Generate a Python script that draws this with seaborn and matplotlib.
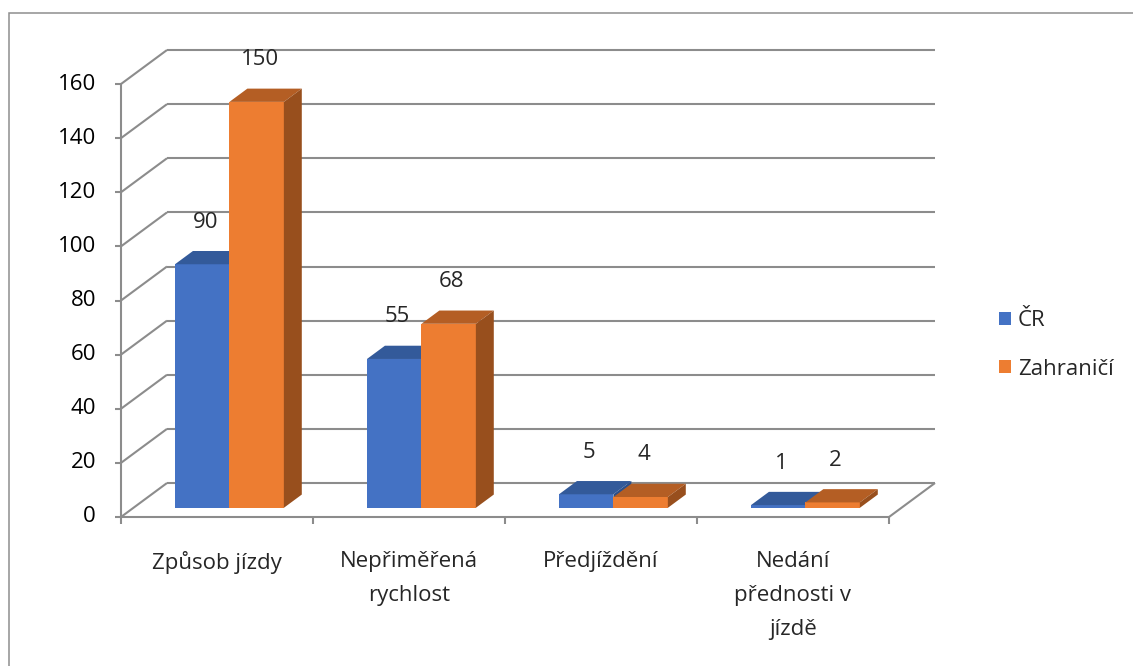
import matplotlib
matplotlib.use("Agg")
import matplotlib.pyplot as plt
import seaborn as sns
import pandas as pd
from matplotlib.patches import Polygon, Rectangle, Patch
from matplotlib.lines import Line2D

# ---- data -------------------------------------------------------------
categories = ["Způsob jízdy", "Nepřiměřená\nrychlost", "Předjíždění",
              "Nedání\npřednosti v\njízdě"]
series = ["ČR", "Zahraničí"]
cr_values = [90, 55, 5, 1]
abroad_values = [150, 68, 4, 2]
y_ticks = [0, 20, 40, 60, 80, 100, 120, 140, 160]

face_colors = {"ČR": "#4472C4", "Zahraničí": "#ED7D31"}
top_colors = {"ČR": "#335A9A", "Zahraničí": "#B45E24"}
side_colors = {"ČR": "#2B4F8A", "Zahraničí": "#984F1D"}
grid_color = "#8C8C8C"

sns.set_theme(style="white")
plt.rcParams["font.family"] = ["Open Sans", "DejaVu Sans"]
FS = 16

W, H, DPI = 1133, 666, 100
fig = plt.figure(figsize=(W / DPI, H / DPI), dpi=DPI)
fig.patch.set_facecolor("white")

# front plane of the plot box, in pixels from the top-left corner
left, right, y_zero, y_top = 121, 889, 517, 84
ax = fig.add_axes([left / W, (H - y_zero) / H, (right - left) / W,
                   (y_zero - y_top) / H])

df = pd.DataFrame({
    "kategorie": categories * 2,
    "hodnota": cr_values + abroad_values,
    "zdroj": [series[0]] * len(categories) + [series[1]] * len(categories),
})
sns.barplot(data=df, x="kategorie", y="hodnota", hue="zdroj",
            palette=face_colors, width=0.567, gap=0, saturation=1,
            linewidth=0, legend=False, ax=ax)

ax.set_xlim(-0.5, len(categories) - 0.5)
ax.set_ylim(0, 160)
for s in ax.spines.values():
    s.set_visible(False)
ax.set_xticks([])
ax.set_yticks([])
ax.set_xlabel("")
ax.set_ylabel("")
ax.patch.set_alpha(0)

# pixel -> data scale factors
sx = (right - left) / len(categories)
sy = (y_zero - y_top) / 160.0
DX, DY = 46 / sx, 34 / sy          # full depth of the 3-D box
f0, fd = 0.27, 0.39                # bar position and thickness along depth
x_lo, x_hi = -0.5, len(categories) - 0.5


def line(xs, ys, lw=1.5, z=0.5):
    ax.add_line(Line2D(xs, ys, color=grid_color, lw=lw, clip_on=False,
                       zorder=z, solid_capstyle="butt"))


# back wall gridlines, side-wall diagonals, value axis and tick labels
for v in y_ticks:
    line([x_lo + DX, x_hi + DX], [v + DY, v + DY])
    line([x_lo, x_lo + DX], [v, v + DY])
    line([x_lo - 6 / sx, x_lo], [v, v])
    ax.text(x_lo - 25 / sx, v, str(v), ha="right", va="center",
            fontsize=FS, color="black", clip_on=False)
line([x_lo, x_lo], [0, 160])

# floor edges and category ticks
line([x_lo, x_hi], [0, 0])
line([x_hi, x_hi + DX], [0, DY])
for k in range(len(categories) + 1):
    line([x_lo + k, x_lo + k], [0, -7 / sy])
for i, c in enumerate(categories):
    ax.text(i, -34 / sy, c, ha="center", va="top", fontsize=FS,
            linespacing=1.8, clip_on=False)

# extrude the bars into 3-D boxes and label them
values = [cr_values, abroad_values]
for si, (cont, name) in enumerate(zip(ax.containers, series)):
    z = 2 + si
    for bar, val in zip(cont, values[si]):
        x = bar.get_x() + f0 * DX
        w = bar.get_width()
        b = f0 * DY
        bar.set_x(x)
        bar.set_y(b)
        bar.set_zorder(z)
        t = b + bar.get_height()
        ddx, ddy = fd * DX, fd * DY
        ax.add_patch(Polygon([(x, t), (x + w, t), (x + w + ddx, t + ddy),
                              (x + ddx, t + ddy)], closed=True,
                             facecolor=top_colors[name], edgecolor="none",
                             zorder=z, clip_on=False))
        ax.add_patch(Polygon([(x + w, b), (x + w + ddx, b + ddy),
                              (x + w + ddx, t + ddy), (x + w, t)],
                             closed=True, facecolor=side_colors[name],
                             edgecolor="none", zorder=z, clip_on=False))
        ax.text(x + w / 2 + 3 / sx, t + 42 / sy, str(val), ha="center",
                va="center", fontsize=FS, zorder=5, clip_on=False)

# legend
handles = [Patch(facecolor=face_colors[s], edgecolor="none", label=s)
           for s in series]
fig.legend(handles=handles, loc="center left",
           bbox_to_anchor=(988 / W, (H - 345) / H), frameon=False,
           fontsize=FS, handlelength=0.55, handleheight=0.55,
           handletextpad=0.3, labelspacing=1.22, borderpad=0)

# outer chart border
fig.add_artist(Rectangle((9 / W, -0.1), 1.2, (H - 13) / H + 0.1,
                         transform=fig.transFigure, fill=False,
                         edgecolor="#8E8E8E", lw=1.1, clip_on=False))

fig.savefig("out.png", dpi=DPI, facecolor="white")
